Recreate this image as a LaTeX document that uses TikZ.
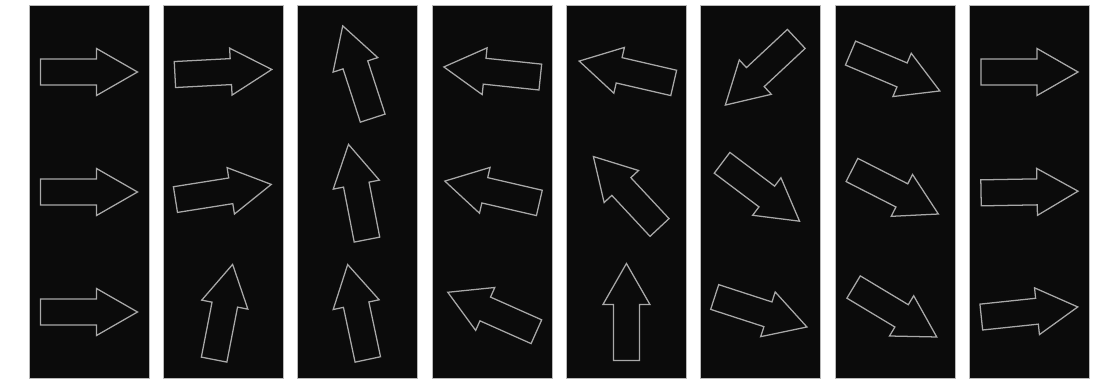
\documentclass[tikz,border=0pt]{standalone}
\usetikzlibrary{positioning}
\definecolor{panelbg}{HTML}{0B0B0B}
\definecolor{arrowline}{HTML}{A8A8A8}

\begin{document}
\begin{tikzpicture}[
  x=0.025cm, y=0.025cm,
  panel/.style={fill=panelbg, draw=gray!55, line width=0.6pt},
  outline/.style={draw=arrowline, line width=0.9pt, line join=miter},
  arw/.pic={
    \draw[outline] (-48.5,-13) -- (7.5,-13) -- (7.5,-23.5) -- (48.5,0)
      -- (7.5,23.5) -- (7.5,13) -- (-48.5,13) -- cycle;
  }
]
  \useasboundingbox[fill=white] (0,0) rectangle (1097,382);

  % one panel per column: index / top / middle / bottom angle
  \foreach \i/\a/\b/\c in {0/0/0/0, 1/3/9/79, 2/108/101/102, 3/174/167/156,
                           4/167/133/90, 5/223/-37/-18, 6/-23/-27/-31, 7/0/1/6} {
    \pgfmathsetmacro\cx{89+134.36*\i}
    \fill[panel] (\cx-60,4) rectangle (\cx+60,377);
    \pic[rotate=\a] at (\cx,310) {arw};
    \pic[rotate=\b] at (\cx,190) {arw};
    \pic[rotate=\c] at (\cx,70)  {arw};
  }
\end{tikzpicture}
\end{document}
